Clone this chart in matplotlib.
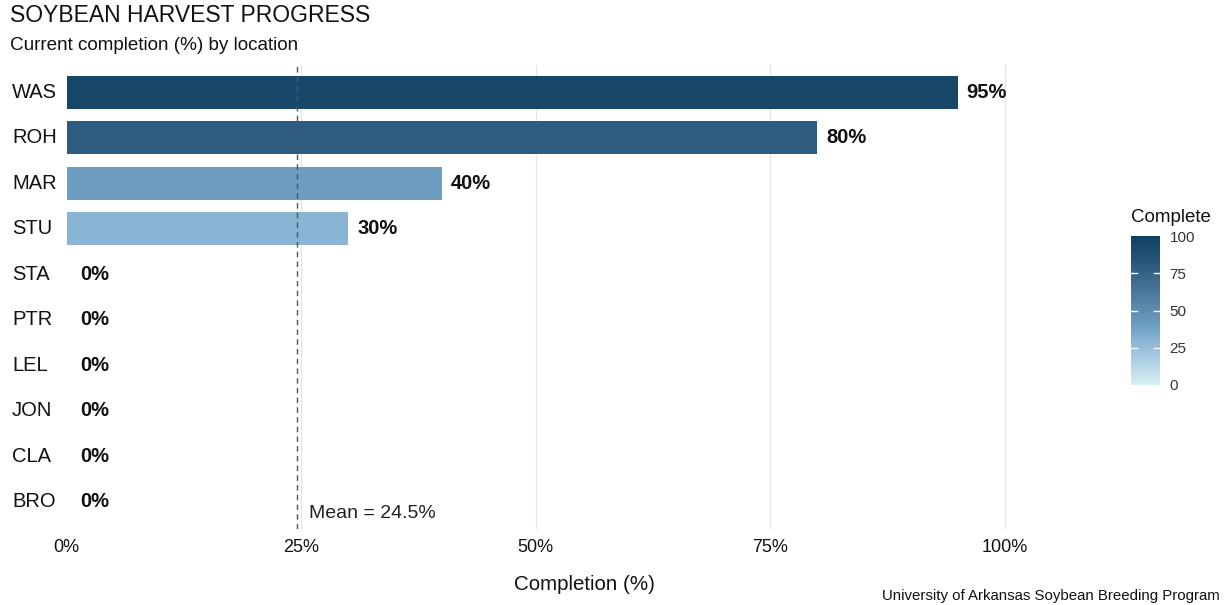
import matplotlib
matplotlib.use("Agg")
import matplotlib.pyplot as plt
import matplotlib.transforms as mtransforms
import numpy as np
from matplotlib.colors import LinearSegmentedColormap, Normalize
from matplotlib.colorbar import ColorbarBase

plt.rcParams['font.family'] = ['Liberation Sans', 'DejaVu Sans']

# Harvest completion by location
locations = ["WAS", "ROH", "MAR", "STU", "STA", "PTR", "LEL", "JON", "CLA", "BRO"]
complete = [95, 80, 40, 30, 0, 0, 0, 0, 0, 0]
x_ticks = [0, 25, 50, 75, 100]
x_tick_labels = ["0%", "25%", "50%", "75%", "100%"]
cbar_ticks = [0, 25, 50, 75, 100]

mean_val = float(np.mean(complete))

cmap = LinearSegmentedColormap.from_list(
    "harvest",
    [(0.0, "#d9eff6"), (0.3, "#88b4d4"), (0.4, "#6d9dc0"),
     (0.8, "#2e5b80"), (1.0, "#0e3f60")])
norm = Normalize(0, 100)

W, H = 1225, 605
fig = plt.figure(figsize=(W / 100, H / 100), dpi=100)
fig.patch.set_facecolor("white")

# panel: x from 62px to 1106px, y from 65px to 529px
ax = fig.add_axes([62 / W, 1 - 529 / H, (1106 - 62) / W, (529 - 65) / H])
ax.set_xlim(-0.5, 110.8)
ax.set_ylim(len(locations) - 0.4, -0.6)

ypos = np.arange(len(locations))
for gx in x_ticks[1:]:
    ax.axvline(gx, color="#e4e4e4", lw=0.9, zorder=0)

ax.barh(ypos, complete, height=0.72, color=[cmap(norm(v)) for v in complete],
        zorder=2)

for y, v in zip(ypos, complete):
    offset = 0.95 if v > 0 else 1.4
    ax.text(v + offset, y, f"{v}%", va="center", ha="left", fontsize=14.5,
            fontweight="bold", color="#111111", zorder=3)

ax.axvline(mean_val, color="#555555", lw=1.0, ls=(0, (4, 3)), zorder=3)
ax.text(mean_val + 1.3, 9.27, f"Mean = {mean_val:.1f}%", ha="left", va="center",
        fontsize=14, color="#222222", zorder=3)

# location names, left-aligned at the figure edge
lab_tr = mtransforms.blended_transform_factory(fig.transFigure, ax.transData)
for y, name in zip(ypos, locations):
    ax.text(12 / W, y, name, transform=lab_tr, ha="left", va="center",
            fontsize=14.5, color="#111111", clip_on=False)
ax.set_yticks([])

ax.set_xticks(x_ticks)
ax.set_xticklabels(x_tick_labels, fontsize=13, color="#111111")
ax.tick_params(axis="x", length=0, pad=7)
for s in ax.spines.values():
    s.set_visible(False)
ax.set_xlabel("Completion (%)", fontsize=14.8, color="#111111", labelpad=14)

fig.text(10 / W, 1 - 16 / H, "SOYBEAN HARVEST PROGRESS", fontsize=16.5,
         ha="left", va="center", color="#111111")
fig.text(10 / W, 1 - 45 / H, "Current completion (%) by location", fontsize=13.6,
         ha="left", va="center", color="#111111")
fig.text(1220 / W, 1 - 596 / H, "University of Arkansas Soybean Breeding Program",
         fontsize=10.85, ha="right", va="center", color="#111111")

# colour legend
cax = fig.add_axes([1131 / W, 1 - 385 / H, 29 / W, (385 - 236) / H])
cb = ColorbarBase(cax, cmap=cmap, norm=norm, orientation="vertical")
cb.outline.set_visible(False)
cb.set_ticks(cbar_ticks)
cb.ax.tick_params(length=0, labelsize=11, colors="#333333", pad=7)
for t in cbar_ticks[1:-1]:
    cax.plot([0, 0.2], [t, t], color="white", lw=1, transform=cax.get_yaxis_transform())
    cax.plot([0.8, 1], [t, t], color="white", lw=1, transform=cax.get_yaxis_transform())
fig.text(1131 / W, 1 - 217 / H, "Complete", fontsize=13.5, ha="left", va="center",
         color="#111111")

fig.savefig("out.png", dpi=100, facecolor="white")
